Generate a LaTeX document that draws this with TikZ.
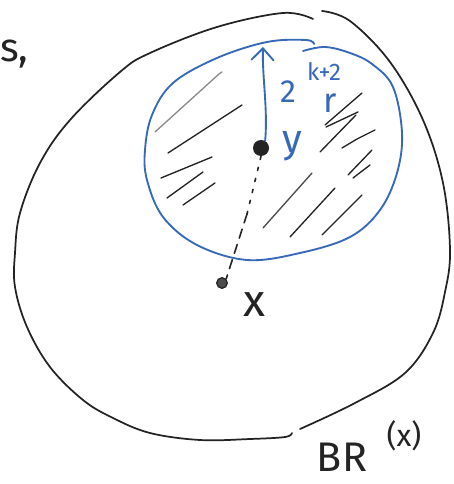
\documentclass[tikz,border=0pt]{standalone}
\usepackage{fontspec}
\setmainfont{Fira Sans}
\usetikzlibrary{arrows.meta}
\definecolor{penblue}{RGB}{55,105,185}
\definecolor{penblack}{RGB}{35,35,35}
\begin{document}
\begin{tikzpicture}[x=0.75pt,y=-0.75pt,
  outline/.style={draw=penblack,line width=1.3pt,line cap=round,line join=round},
  blueline/.style={draw=penblue,line width=1.4pt,line cap=round,line join=round},
  hatch/.style={draw=penblack,line width=1pt,line cap=round},
  lbl/.style={inner sep=0pt,outer sep=0pt,text=penblack},
  bluelbl/.style={inner sep=0pt,outer sep=0pt,text=penblue},
  bigdot/.style={circle,fill=penblack,inner sep=0pt,minimum size=12pt},
  smalldot/.style={circle,draw=penblack,fill=black!70,line width=0.9pt,inner sep=0pt,minimum size=8pt},
]
\useasboundingbox (0,0) rectangle (453,484);
\fill[white] (0,0) rectangle (453,484);

% outer ball B_R(x), drawn in two strokes
\draw[outline] plot[smooth,tension=0.6] coordinates {(322,11) (350,21) (390,62) (423,120) (443,183) (450,250) (445,292) (433,333) (405,373) (355,403) (300,429)};
\draw[outline] plot[smooth,tension=0.6] coordinates {(313,19) (283,13) (217,27) (150,53) (120,72) (70,120) (40,163) (20,213) (15,253) (15,287) (27,327) (50,367) (83,400) (113,418) (150,433) (200,440) (250,439) (285,437) (292,433)};

% blue ball around y
\draw[blueline] plot[smooth,tension=0.6] coordinates {(303,51) (325,47) (350,53) (372,64) (393,87) (402,133) (397,173) (380,210) (350,237) (300,253) (247,260) (197,245) (163,217) (147,180) (145,150) (152,115) (173,83) (217,58) (267,42) (306,40) (314,44)};

% hatching
\draw[hatch,draw=black!45] (155,132) -- (219,74) -- (222,72);
\draw[hatch] (168,153) -- (242,105);
\draw[hatch] (161,178) -- (212,157);
\draw[hatch] (167,198) -- (203,172);
\draw[hatch] (183,205) -- (215,183);
\draw[hatch] (325,125) -- (362,93);
\draw[hatch] (326,127) -- (358,112);
\draw[hatch] (320,152) -- (356,115);
\draw[hatch] (342,148) -- (357,139) -- (375,130);
\draw[hatch] (348,175) -- (372,150);
\draw[hatch] (353,178) -- (370,165);
\draw[hatch,draw=black!70] (263,228) -- (312,173);
\draw[hatch] (290,237) -- (335,188);
\draw[hatch] (322,235) -- (362,195);

% points
\node[bigdot] (ydot) at (261,148) {};
\node[smalldot] (xdot) at (222,283) {};
\coordinate (mid) at (247,214);
\coordinate (tip) at (263,47);

% dotted segment from y to x
\draw[penblack,line width=1.2pt,line cap=round,dash pattern=on 2.5pt off 6pt] (ydot.south) -- (mid);
\draw[penblack,line width=1.2pt,line cap=round,dash pattern=on 7pt off 5pt] (mid) -- (xdot.north east);

% radius arrow
\draw[blueline,-{Straight Barb[length=9pt,width=17pt,line width=1.4pt]}] (ydot.60) .. controls (268,110) and (262,75) .. (tip);

% labels
\node[bluelbl,font=\fontsize{24}{24}\selectfont] (two) at (288,92) {2};
\node[bluelbl,font=\fontsize{18}{18}\selectfont] (expo) at (324,72) {k+2};
\node[bluelbl,font=\fontsize{26}{26}\selectfont] (rlab) at (330,103) {r};
\node[bluelbl,font=\fontsize{30}{30}\selectfont] (ylab) at (292,146) {y};
\node[lbl,font=\fontsize{34}{34}\selectfont] (xlab) at (254,305) {x};
\node[lbl,font=\fontsize{31}{31}\selectfont] (blab) at (342,457) {BR};
\node[lbl,font=\fontsize{23}{23}\selectfont] (xarg) at (404,436) {(x)};
\node[lbl,font=\fontsize{30}{30}\selectfont,anchor=base west] (cut) at (0,62) {s,};
\end{tikzpicture}
\end{document}
